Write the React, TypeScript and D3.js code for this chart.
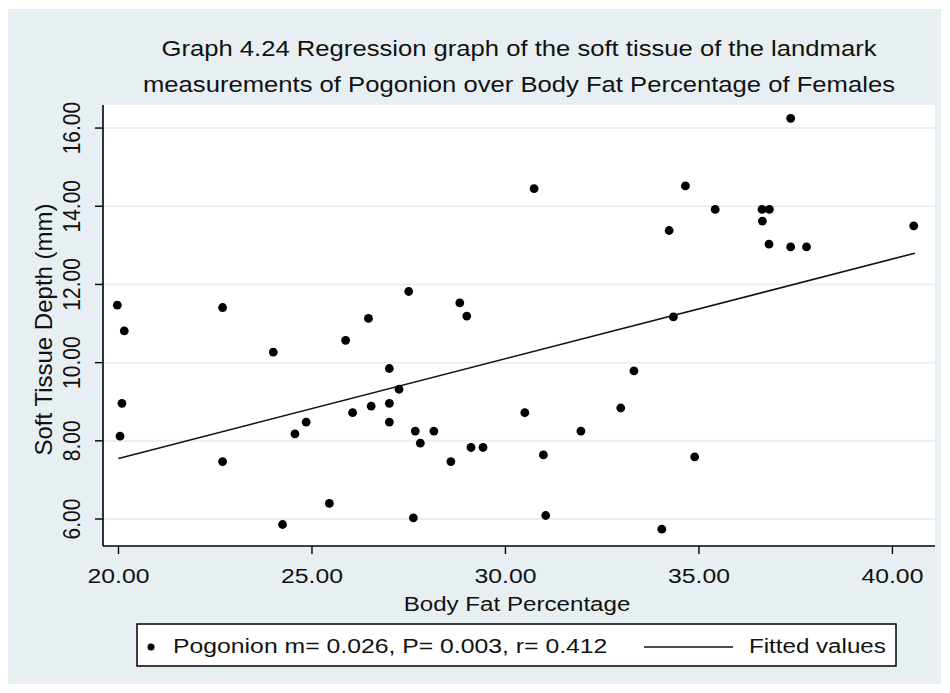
import React from 'react';
import * as d3 from 'd3';

// body fat % (x) and soft tissue depth in mm (y)
const bodyFat = [
  19.97, 22.69, 20.15, 24.0, 20.09, 20.04, 24.56, 24.85, 22.69, 24.24,
  27.5, 28.82, 29.0, 26.46, 25.87, 27.0, 27.25, 26.05, 26.53, 27.0,
  27.0, 27.67, 28.15, 27.8, 29.11, 29.42, 28.59, 25.45, 27.62, 30.74,
  34.65, 34.23, 35.42, 34.34, 33.32, 30.5, 32.98, 31.95, 30.98, 34.89,
  31.04, 34.04, 37.37, 36.63, 36.82, 36.64, 36.81, 37.37, 37.78, 40.55,
];
const tissueDepth = [
  11.47, 11.41, 10.81, 10.27, 8.96, 8.12, 8.18, 8.48, 7.47, 5.86,
  11.82, 11.53, 11.19, 11.13, 10.57, 9.85, 9.32, 8.72, 8.89, 8.96,
  8.48, 8.25, 8.25, 7.94, 7.83, 7.83, 7.47, 6.4, 6.03, 14.45,
  14.52, 13.38, 13.92, 11.17, 9.79, 8.72, 8.84, 8.25, 7.64, 7.59,
  6.09, 5.74, 16.25, 13.92, 13.92, 13.62, 13.03, 12.96, 12.96, 13.5,
];

// fitted values (regression line ends)
const fitX = [20.0, 40.58];
const fitY = [7.55, 12.8];

const xTicks = [20, 25, 30, 35, 40];
const yTicks = [6, 8, 10, 12, 14, 16];

const titleLines = [
  'Graph 4.24 Regression graph of the soft tissue of the landmark',
  'measurements of Pogonion over Body Fat Percentage of Females',
];
const xTitle = 'Body Fat Percentage';
const yTitle = 'Soft Tissue Depth (mm)';
const legendLabels = ['Pogonion m= 0.026, P= 0.003, r= 0.412', 'Fitted values'];

const W = 950;
const H = 693;
const plot = { left: 103, right: 935, top: 105, bottom: 546 };
const BG = '#e8eff3';
const FONT = '"Liberation Sans", Arial, sans-serif';
const SX = 1.15; // the source picture is stretched sideways a bit

const Txt: React.FC<{
  x: number;
  y: number;
  size: number;
  sx?: number;
  anchor?: 'start' | 'middle' | 'end';
  rotate?: boolean;
  children: React.ReactNode;
}> = ({ x, y, size, sx = SX, anchor = 'middle', rotate, children }) => (
  <g transform={`translate(${x},${y}) scale(${sx},1)${rotate ? ' rotate(-90)' : ''}`}>
    <text x={0} y={0} fontSize={size} textAnchor={anchor} fill="#111" fontFamily={FONT}>
      {children}
    </text>
  </g>
);

const App: React.FC = () => {
  const x = d3.scaleLinear().domain([19.6, 41.1]).range([plot.left, plot.right]);
  const y = d3.scaleLinear().domain([5.31, 16.59]).range([plot.bottom, plot.top]);
  const fmt = d3.format('.2f');
  const cx = (plot.left + plot.right) / 2;
  const cy = (plot.top + plot.bottom) / 2;

  const fitLine = d3
    .line<number>()
    .x((d) => x(d))
    .y((_d, i) => y(fitY[i]));

  return (
    <svg width={W} height={H} style={{ position: 'absolute', left: 0, top: 0 }}>
      <rect x={0} y={0} width={W} height={H} fill="#fff" />
      <rect x={8} y={9} width={933} height={675} fill={BG} />
      <rect
        x={plot.left}
        y={plot.top}
        width={plot.right - plot.left}
        height={plot.bottom - plot.top}
        fill="#fff"
      />

      {/* grid */}
      {yTicks.map((t) => (
        <line
          key={'g' + t}
          x1={plot.left}
          x2={plot.right}
          y1={y(t)}
          y2={y(t)}
          stroke={BG}
          strokeWidth={2}
        />
      ))}

      {/* points */}
      {bodyFat.map((bf, i) => (
        <circle key={i} cx={x(bf)} cy={y(tissueDepth[i])} r={4.4} fill="#000" />
      ))}

      {/* fitted line */}
      <path d={fitLine(fitX) || ''} fill="none" stroke="#111" strokeWidth={1.6} />

      {/* axes */}
      <line x1={plot.left} x2={plot.left} y1={plot.top} y2={plot.bottom} stroke="#000" strokeWidth={1.6} />
      <line x1={plot.left} x2={plot.right} y1={plot.bottom} y2={plot.bottom} stroke="#000" strokeWidth={1.6} />
      {yTicks.map((t) => (
        <g key={'y' + t}>
          <line x1={plot.left - 8} x2={plot.left} y1={y(t)} y2={y(t)} stroke="#000" strokeWidth={1.4} />
          <Txt x={80} y={y(t)} size={21} rotate>
            {fmt(t)}
          </Txt>
        </g>
      ))}
      {xTicks.map((t) => (
        <g key={'x' + t}>
          <line x1={x(t)} x2={x(t)} y1={plot.bottom} y2={plot.bottom + 8} stroke="#000" strokeWidth={1.4} />
          <Txt x={x(t)} y={583} size={21} sx={1.18}>
            {fmt(t)}
          </Txt>
        </g>
      ))}

      {/* titles */}
      {titleLines.map((l, i) => (
        <Txt key={l} x={cx} y={56 + i * 36} size={22} sx={1.165}>
          {l}
        </Txt>
      ))}
      <Txt x={cx - 2} y={611} size={21}>
        {xTitle}
      </Txt>
      <Txt x={52} y={cy + 4} size={24} sx={1} rotate>
        {yTitle}
      </Txt>

      {/* legend */}
      <rect x={137} y={624} width={759} height={42} fill="#fff" stroke="#000" strokeWidth={1.5} />
      <circle cx={151} cy={647} r={3.5} fill="#000" />
      <Txt x={173} y={653} size={21} sx={1.18} anchor="start">
        {legendLabels[0]}
      </Txt>
      <line x1={644} x2={733} y1={647} y2={647} stroke="#111" strokeWidth={1.6} />
      <Txt x={749} y={653} size={21} anchor="start">
        {legendLabels[1]}
      </Txt>
    </svg>
  );
};

export default App;
